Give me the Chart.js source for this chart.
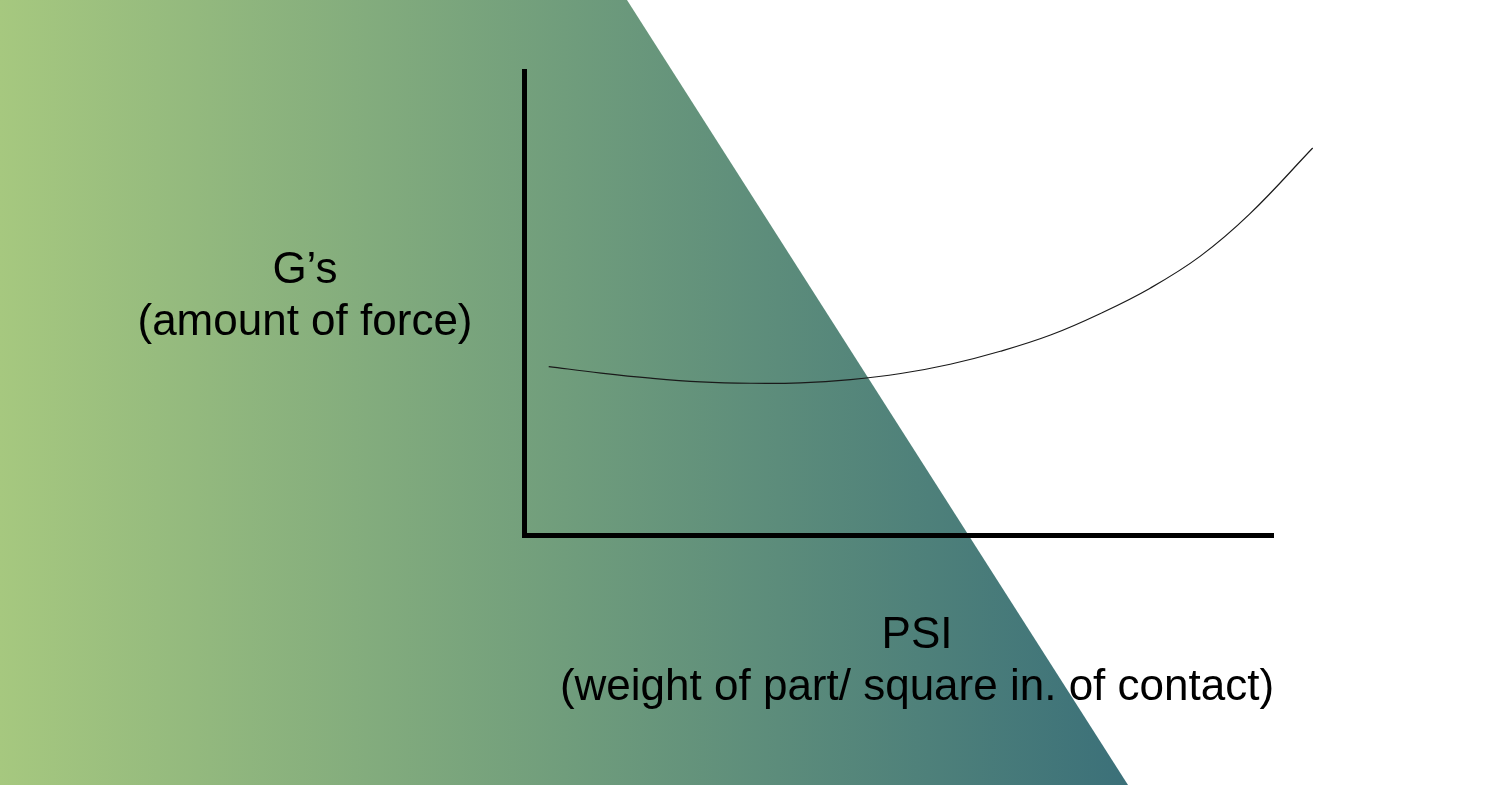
<!DOCTYPE html>
<html>
<head>
<meta charset="utf-8">
<script src="https://cdn.jsdelivr.net/npm/chart.js@4.4.1/dist/chart.umd.min.js"></script>
<style>
  html, body { margin: 0; padding: 0; background: #fff; overflow: hidden; }
  #wrap { width: 1500px; height: 785px; position: relative; }
  #chart { display: block; }
</style>
</head>
<body>
<div id="wrap"><canvas id="chart" width="1500" height="785"></canvas></div>
<script>
// curve (no tick labels, so arbitrary units 0..10)
const psiValues = [0.33, 1.03, 1.69, 2.36, 3.03, 3.69, 4.36, 5.03, 5.69, 6.36, 7.03, 7.69, 8.36, 9.03, 9.69, 10.53];
const gValues   = [3.63, 3.49, 3.38, 3.30, 3.27, 3.28, 3.35, 3.48, 3.68, 3.96, 4.31, 4.77, 5.32, 6.01, 6.92, 8.34];
const yLabel = ['G\u2019s', '(amount of force)'];
const xLabel = ['PSI', '(weight of part/ square in. of contact)'];

const points = psiValues.map((x, i) => ({ x: x, y: gValues[i] }));

// green wedge behind the chart
const backdrop = {
  id: 'backdrop',
  beforeDraw(chart) {
    const ctx = chart.ctx;
    ctx.save();
    ctx.fillStyle = '#fff';
    ctx.fillRect(0, 0, chart.width, chart.height);
    const grad = ctx.createLinearGradient(0, 0, 1130, 0);
    grad.addColorStop(0, '#a6c87f');
    grad.addColorStop(0.5, '#709d7c');
    grad.addColorStop(1, '#3b7079');
    ctx.fillStyle = grad;
    ctx.beginPath();
    ctx.moveTo(0, 0);
    ctx.lineTo(627, 0);
    ctx.lineTo(1128, 785);
    ctx.lineTo(0, 785);
    ctx.closePath();
    ctx.fill();
    ctx.restore();
  }
};

// the two axis captions
const captions = {
  id: 'captions',
  afterDraw(chart) {
    const ctx = chart.ctx;
    ctx.save();
    ctx.fillStyle = '#000';
    ctx.font = '44px "Liberation Sans", Arial, sans-serif';
    ctx.textAlign = 'center';
    ctx.textBaseline = 'alphabetic';
    ctx.fillText(yLabel[0], 305, 283);
    ctx.fillText(yLabel[1], 305, 335);
    ctx.fillText(xLabel[0], 917, 648);
    ctx.fillText(xLabel[1], 917, 700);
    ctx.restore();
  }
};

new Chart(document.getElementById('chart'), {
  type: 'line',
  data: {
    datasets: [{
      data: points,
      borderColor: '#1a1a1a',
      borderWidth: 1.2,
      pointRadius: 0,
      tension: 0.4,
      fill: false,
      clip: false
    }]
  },
  options: {
    responsive: false,
    animation: false,
    devicePixelRatio: 1,
    layout: { padding: { left: 524, right: 227, top: 71, bottom: 250 } },
    plugins: { legend: { display: false }, tooltip: { enabled: false } },
    scales: {
      x: {
        type: 'linear', min: 0, max: 10,
        grid: { display: false, drawTicks: false },
        ticks: { display: false },
        border: { display: true, color: '#000', width: 5 }
      },
      y: {
        type: 'linear', min: 0, max: 10,
        grid: { display: false, drawTicks: false },
        ticks: { display: false },
        border: { display: true, color: '#000', width: 5 }
      }
    }
  },
  plugins: [backdrop, captions]
});
</script>
</body>
</html>
